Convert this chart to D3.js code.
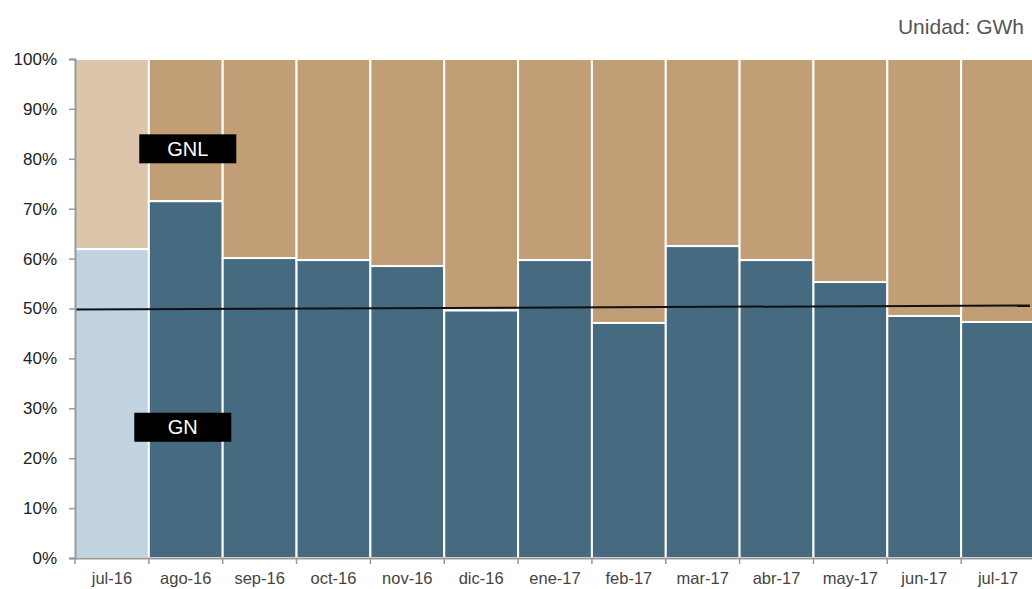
<!DOCTYPE html>
<html><head><meta charset="utf-8">
<script src="https://cdn.jsdelivr.net/npm/d3@7"></script>
<style>body{margin:0;background:#fff;overflow:hidden}svg{display:block;font-family:"Liberation Sans",Arial,sans-serif}</style>
</head><body><svg id="c" width="1032" height="589"></svg>
<script>
const categories = ["jul-16","ago-16","sep-16","oct-16","nov-16","dic-16","ene-17","feb-17","mar-17","abr-17","may-17","jun-17","jul-17"];
const gnShare = [61.9,71.5,60.1,59.7,58.5,49.6,59.7,47.1,62.5,59.7,55.3,48.5,47.3];
const gnlShare = gnShare.map(v => 100 - v);
const trendLine = [49.8, 50.6];
const yTicks = [0,10,20,30,40,50,60,70,80,90,100];
const seriesLabels = ["GN","GNL"];

const svg = d3.select("#c");
const mLeft = 75, mRight = 1035, mTop = 59, mBottom = 558;
const x = d3.scaleBand().domain(categories).range([mLeft, mRight]).padding(0);
const y = d3.scaleLinear().domain([0,100]).range([mBottom, mTop]);

const colGN = "#466a80", colGNL = "#c29e77", colGNlight = "#c0d3df", colGNLlight = "#dbc6ab";

const g = svg.append("g");
categories.forEach((c,i) => {
  const first = i === 0;
  g.append("rect").attr("x", x(c)).attr("width", x.bandwidth())
    .attr("y", y(100)).attr("height", y(100 - gnlShare[i]) - y(100))
    .attr("fill", first ? colGNLlight : colGNL).attr("stroke","#fff").attr("stroke-width",2);
  g.append("rect").attr("x", x(c)).attr("width", x.bandwidth())
    .attr("y", y(gnShare[i])).attr("height", y(0) - y(gnShare[i]))
    .attr("fill", first ? colGNlight : colGN).attr("stroke","#fff").attr("stroke-width",2);
});

// trend line
svg.append("line").attr("x1", mLeft).attr("x2", 1030)
  .attr("y1", y(trendLine[0])).attr("y2", y(trendLine[1]))
  .attr("stroke","#111").attr("stroke-width",2);

// y axis
const yAxis = svg.append("g").attr("transform",`translate(${mLeft},0)`)
  .call(d3.axisLeft(y).tickValues(yTicks).tickFormat(d => d + "%").tickSize(6).tickPadding(12));
yAxis.select(".domain").attr("stroke","#999").attr("stroke-width",2);
yAxis.selectAll(".tick line").attr("stroke","#999").attr("stroke-width",1.5);
yAxis.selectAll("text").attr("fill","#222").style("font-size","17px");

// x axis
const xAxis = svg.append("g").attr("transform",`translate(0,${mBottom})`)
  .call(d3.axisBottom(x).tickSize(0).tickPadding(14));
xAxis.select(".domain").attr("stroke","#999").attr("stroke-width",2);
xAxis.selectAll("text").attr("fill","#444").style("font-size","16.5px");
xAxis.selectAll(".tick").append("line")
  .attr("x1", -x.bandwidth()/2).attr("x2", -x.bandwidth()/2)
  .attr("y1", 0).attr("y2", 6).attr("stroke","#999").attr("stroke-width",1.5);

// labels
const cx = x("ago-16") + x.bandwidth()/2;
[[seriesLabels[1], cx + 2, 82.0], [seriesLabels[0], cx - 3, 26.2]].forEach(([t, px, v]) => {
  svg.append("rect").attr("x", px - 48.5).attr("y", y(v) - 14.5).attr("width", 97).attr("height", 29).attr("fill","#000");
  svg.append("text").attr("x", px).attr("y", y(v) + 7).attr("text-anchor","middle")
    .attr("fill","#fff").style("font-size","20px").text(t);
});

svg.append("text").attr("x", 1024).attr("y", 34).attr("text-anchor","end")
  .attr("fill","#555").style("font-size","21px").text("Unidad: GWh");
</script></body></html>
